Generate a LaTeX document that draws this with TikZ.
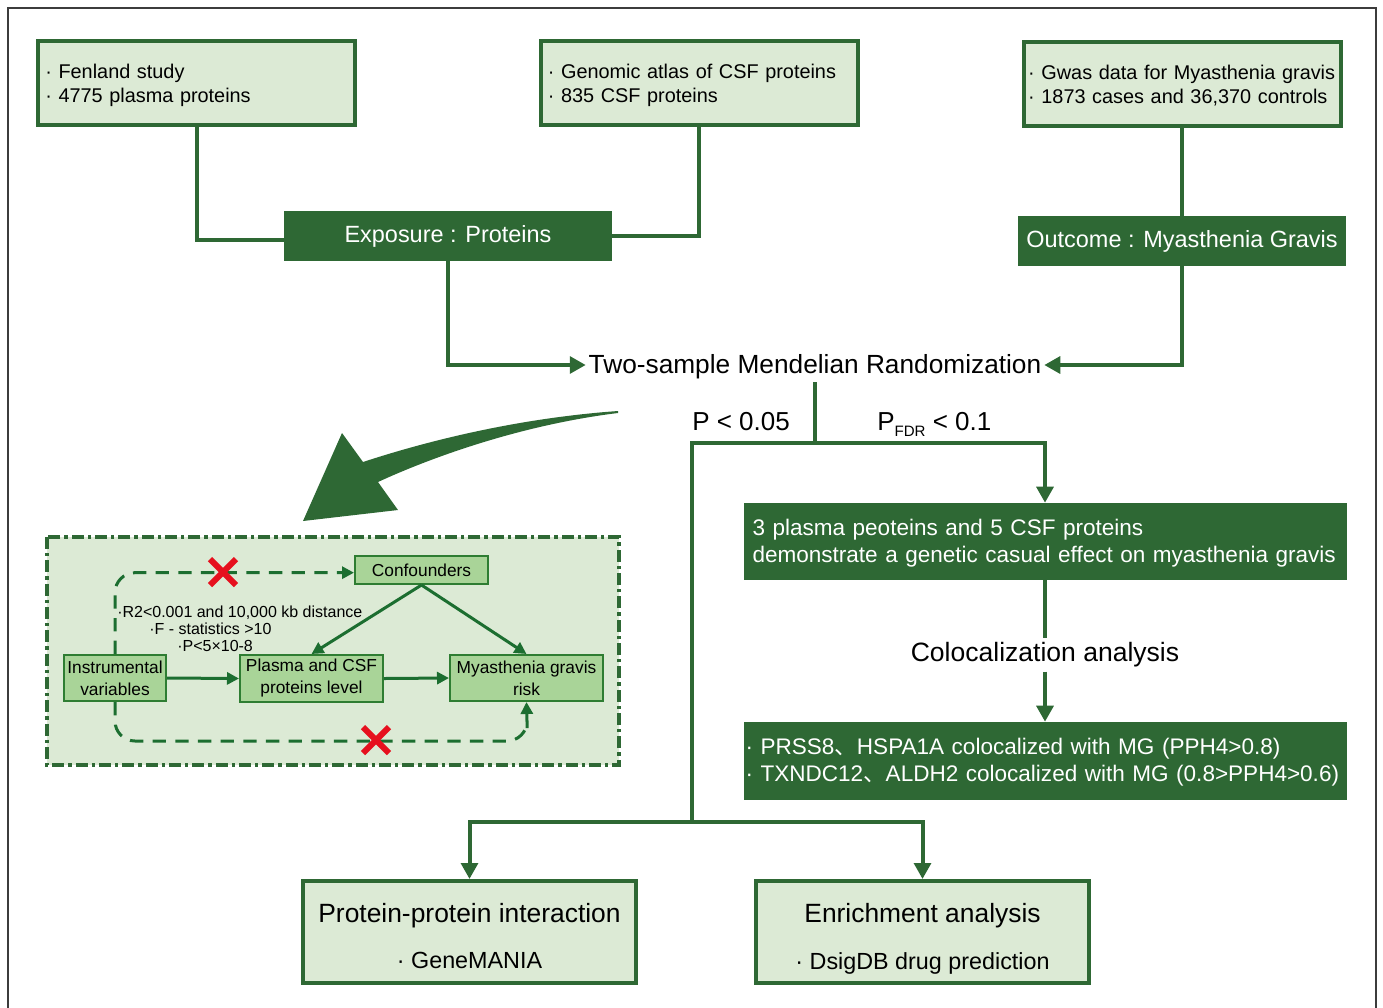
\documentclass[tikz,border=0pt]{standalone}
\usepackage{fontspec}
\setmainfont{Liberation Sans}
\newfontfamily\cjk{Noto Sans CJK SC}
\usetikzlibrary{arrows.meta}
\definecolor{dkg}{RGB}{46,104,52}
\definecolor{ltg}{RGB}{220,234,213}
\definecolor{ing}{RGB}{169,212,152}
\definecolor{inb}{RGB}{46,125,50}
\definecolor{inl}{RGB}{28,110,48}
\definecolor{xred}{RGB}{230,16,30}
\definecolor{frm}{RGB}{60,60,60}
\newcommand{\cm}{{\cjk 、}}
\newcommand{\dn}[2]{\raisebox{-#1}[\height][\depth]{#2}}
\begin{document}
\begin{tikzpicture}[x=0.75pt,y=-0.75pt,
  srcbox/.style={draw=dkg,fill=ltg,line width=3pt,minimum height=63pt,text width=226.75pt,inner xsep=5.5pt,align=left,font=\fontsize{14.9}{18}\selectfont},
  headbox/.style={fill=dkg,text=white,minimum width=246pt,minimum height=37.5pt,inner sep=2pt,font=\fontsize{17.6}{21}\selectfont},
  resbox/.style={fill=dkg,text=white,align=left,font=\fontsize{16.9}{20.25}\selectfont},
  endbox/.style={draw=dkg,fill=ltg,line width=3pt,minimum width=249.75pt,minimum height=76.5pt,align=center,font=\fontsize{19.8}{35}\selectfont},
  plain/.style={inner sep=2pt,font=\fontsize{19.7}{23}\selectfont},
  conn/.style={draw=dkg,line width=3pt},
  arr/.style={conn,-{Triangle[length=12pt,width=12.5pt]}},
  innode/.style={draw=inb,fill=ing,line width=1.5pt,inner sep=1.5pt,align=center,font=\fontsize{13}{16.5}\selectfont},
  inarrow/.style={draw=inl,line width=2.25pt,-{Triangle[length=9pt,width=9pt]}},
  indash/.style={draw=inl,line width=2.25pt,dash pattern=on 10pt off 7pt},
  intext/.style={anchor=west,inner sep=0pt,font=\fontsize{12}{14}\selectfont},
  xmark/.style={draw=xred,line width=4.5pt}
]
\useasboundingbox (0,0) rectangle (1383,1007);
\fill[white] (0,0) rectangle (1383,1007);
% outer frame
\draw[frm,line width=1.5pt] (8,1012) -- (8,8) -- (1376,8) -- (1376,1012);

% source boxes
\node[srcbox] (src1) at (196.5,83) {\dn{1.5pt}{· Fenland study}\\\dn{1.5pt}{· 4775 plasma proteins}};
\node[srcbox] (src2) at (699,83) {\dn{1.5pt}{· Genomic atlas of CSF proteins}\\\dn{1.5pt}{· 835 CSF proteins}};
\node[srcbox,inner xsep=3.5pt,text width=230.75pt] (src3) at (1182,83.5) {\dn{1.5pt}{· Gwas data for Myasthenia gravis}\\\dn{1.5pt}{· 1873 cases and 36,370 controls}};

\node[headbox] (expo) at (448,236) {Exposure : Proteins};
\node[headbox] (outc) at (1182,241) {Outcome : Myasthenia Gravis};

\node[plain] (mr) at (815,367) {Two-sample Mendelian Randomization};

\draw[conn] (src1.south) |- ([yshift=-3pt]expo.west);
\draw[conn] (src2.south) |- (expo.east);
\draw[conn] (src3.south) -- (outc.north);
\draw[arr] (expo.south) |- ([yshift=1.5pt]mr.west);
\draw[arr] (outc.south) |- ([yshift=1.5pt]mr.east);

% split
\coordinate (sp) at (815,443);
\coordinate (lb) at (692,822);
\node[resbox,text width=438.75pt,inner xsep=6.75pt,minimum height=57.75pt] (res) at (1045,541.5)
  {\dn{1.5pt}{3 plasma peoteins and 5 CSF proteins}\\\dn{1.5pt}{demonstrate a genetic casual effect on myasthenia gravis}};
\node[plain,inner sep=3pt,font=\fontsize{19.9}{23}\selectfont] (coloc) at (1045,655) {Colocalization analysis};
\node[resbox,text width=449.25pt,inner xsep=1.5pt,minimum height=58.5pt] (prss) at (1045,761)
  {\dn{0.75pt}{· PRSS8\cm HSPA1A colocalized with MG (PPH4>0.8)}\\\dn{0.75pt}{· TXNDC12\cm ALDH2 colocalized with MG (0.8>PPH4>0.6)}};

\node[endbox] (ppi) at (469.5,932) {\dn{3pt}{Protein-protein interaction}\\{\fontsize{17.5}{35}\selectfont \dn{3pt}{· GeneMANIA}}};
\node[endbox] (enr) at (922.5,932) {\dn{4.9pt}{Enrichment analysis}\\{\fontsize{17.5}{35}\selectfont \dn{4.9pt}{· DsigDB drug prediction}}};

\draw[conn] (mr.south) -- (sp);
\draw[arr] (sp) -| (res.north);
\draw[conn] (sp) -| (lb);
\draw[arr] (lb) -| (ppi.north);
\draw[arr] (lb) -| (enr.north);
\draw[conn] (res.south) -- (coloc.north);
\draw[arr] (coloc.south) -- (prss.north);

\node[anchor=base west,inner sep=0pt,font=\fontsize{19.5}{23}\selectfont] (p05) at (692,430) {P < 0.05};
\node[anchor=base west,inner sep=0pt,font=\fontsize{19.5}{23}\selectfont] (pfdr) at (877,430) {P\raisebox{-5pt}{\fontsize{11.3}{12}\selectfont FDR} < 0.1};

% big curved arrow
\fill[dkg] (618,411) .. controls (520,418) and (430,440) .. (363,462) -- (342,433) -- (303,521) -- (398,510) -- (378,482)
  .. controls (430,458) and (520,425) .. (618,413) -- cycle;

% inset
\draw[dkg,line width=3pt,fill=ltg,dash pattern=on 9pt off 3pt on 2.5pt off 3pt] (47,537) rectangle (619,765);
\node[innode,minimum width=99.75pt,minimum height=21pt] (conf) at (421.5,570) {Confounders};
\node[innode,minimum width=76.5pt,minimum height=34.5pt] (iv) at (115,678) {Instrumental\\variables};
\node[innode,minimum width=107.25pt,minimum height=35.25pt] (pl) at (311.5,678.5) {Plasma and CSF\\proteins level};
\node[innode,minimum width=114.75pt,minimum height=34.5pt] (mg) at (526.5,678) {Myasthenia gravis\\risk};

\draw[inarrow] (iv.east) -- (pl.west);
\draw[inarrow] (pl.east) -- (mg.west);
\draw[inarrow] (conf.south) -- (pl.north);
\draw[inarrow] (conf.south) -- (mg.north);

\draw[indash,rounded corners=15pt] (iv.north) |- ([yshift=-2pt]conf.west);
\draw[inarrow] ([xshift=-6pt,yshift=-2pt]conf.west) -- ([yshift=-2pt]conf.west);
\coordinate (bq) at (527,741);
\draw[indash,rounded corners=15pt] (iv.south) |- (bq) -- (527,728);
\draw[inarrow] (527,721) -- (mg.south);

\node[intext] (t1) at (117,613) {·R2<0.001 and 10,000 kb distance};
\node[intext] (t2) at (149,629) {·F - statistics >10};
\node[intext] (t3) at (177,646) {·P<5×10-8};

\draw[xmark] (210,559) -- (236,585) (210,585) -- (236,559);
\draw[xmark] (363,727) -- (389,753) (363,753) -- (389,727);
\end{tikzpicture}
\end{document}
